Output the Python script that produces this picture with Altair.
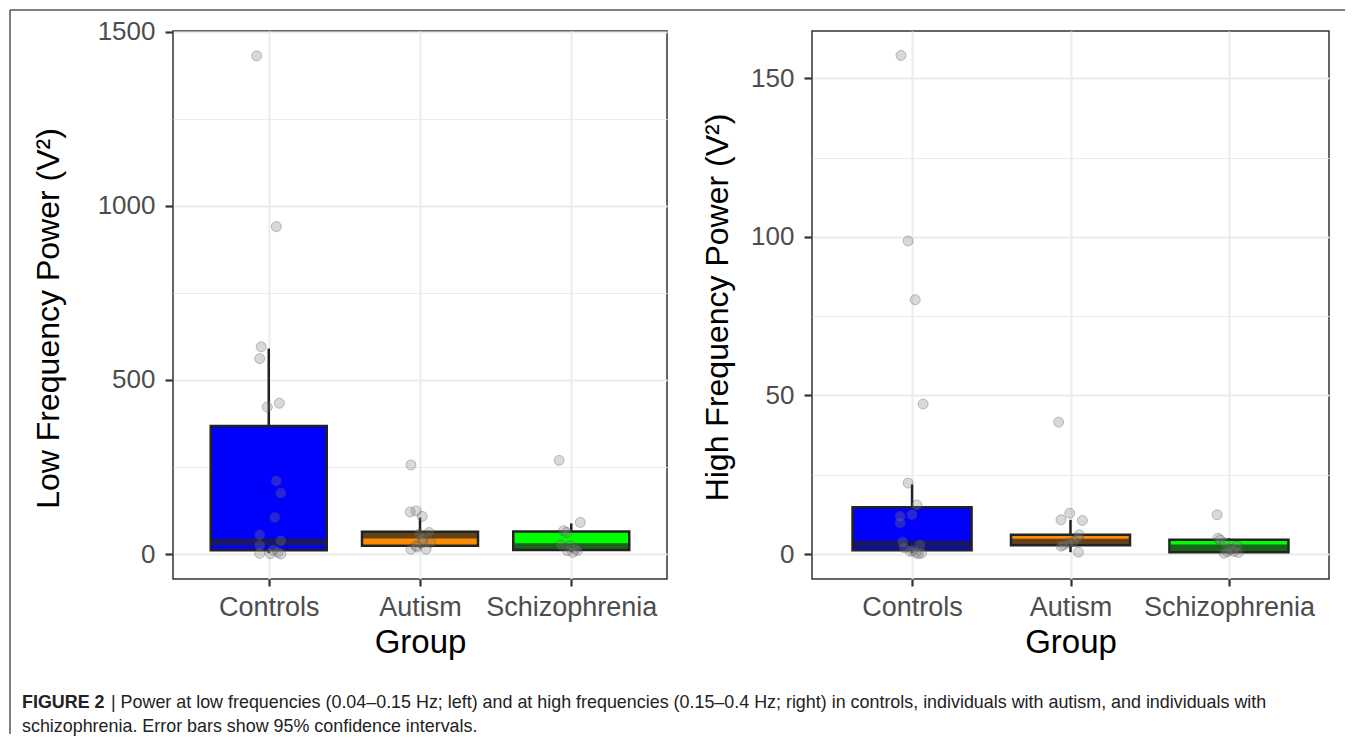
import altair as alt
import pandas as pd

groups = ["Controls", "Autism", "Schizophrenia"]
colors = ["#0000FF", "#FF8C00", "#00FF00"]

# ---------- Low frequency power (left) ----------
lf_ctrl = [1430, 940, 595, 561, 433, 422, 210, 175, 105, 55, 38, 25, 12, 5, 2, 0, 1]
lf_ctrl_jit = [-0.08, 0.05, -0.05, -0.06, 0.07, -0.01, 0.05, 0.08, 0.04, -0.06, 0.08, -0.06, 0.03, 0.06, -0.06, 0.08, 0.01]
lf_aut = [256, 121, 124, 108, 62, 57, 45, 33, 33, 24, 14, 14, 20]
lf_aut_jit = [-0.06, -0.065, -0.025, 0.015, 0.06, -0.005, 0.02, 0.02, 0.07, -0.025, -0.06, 0.04, -0.02]
lf_scz = [269, 91, 67, 62, 26, 24, 15, 10, 10, 5]
lf_scz_jit = [-0.08, 0.06, -0.05, -0.03, -0.07, -0.005, 0.03, -0.025, 0.04, 0.01]
lf_lower = [3, 17, 5]
lf_q1 = [11, 24, 12]
lf_median = [35, 55, 21]
lf_q3 = [368, 64, 65]
lf_upper = [590, 105, 88]

# ---------- High frequency power (right) ----------
hf_ctrl = [157.2, 98.7, 80.2, 47.3, 22.4, 15.5, 12.4, 11.9, 9.8, 3.8, 2.9, 0.85, 0.1, 0.3, 2.0, 1.2, 0.5]
hf_ctrl_jit = [-0.07, -0.025, 0.02, 0.07, -0.025, 0.03, 0.0, -0.075, -0.075, -0.06, 0.05, -0.01, 0.04, 0.06, -0.05, 0.005, 0.025]
hf_aut = [41.6, 12.9, 10.8, 10.6, 6.1, 5.0, 2.9, 2.5, 0.6, 4.0, 3.5]
hf_aut_jit = [-0.075, -0.005, -0.06, 0.075, 0.055, 0.045, -0.045, -0.06, 0.05, 0.02, -0.01]
hf_scz = [12.4, 5.0, 4.5, 3.5, 0.85, 0.85, 0.3, 1.5, 2.5, 0.5]
hf_scz_jit = [-0.075, -0.07, -0.055, -0.025, -0.01, 0.03, -0.03, 0.01, 0.05, 0.06]
hf_lower = [0.3, 0.6, 0.2]
hf_q1 = [1.2, 2.8, 0.6]
hf_median = [3.2, 3.7, 1.9]
hf_q3 = [14.8, 6.1, 4.5]
hf_upper = [22.0, 10.8, 5.0]

lf_title = "Low Frequency Power (V²)"
hf_title = "High Frequency Power (V²)"
x_title = "Group"
caption_bold = "FIGURE 2"
caption_1 = "| Power at low frequencies (0.04–0.15 Hz; left) and at high frequencies (0.15–0.4 Hz; right) in controls, individuals with autism, and individuals with"
caption_2 = "schizophrenia. Error bars show 95% confidence intervals."

FONT = "Liberation Sans"
CAP_FONT = "Liberation Sans"
DARK = "#222222"


def points_df(vals_list, jit_list):
    rows = []
    for i, (vals, jits) in enumerate(zip(vals_list, jit_list)):
        for v, j in zip(vals, jits):
            rows.append({"group": groups[i], "xv": i + 1 + j, "value": v})
    return pd.DataFrame(rows)


def box_df(lower, q1, med, q3, upper):
    return pd.DataFrame({
        "group": groups, "pos": [1, 2, 3],
        "lower": lower, "q1": q1, "median": med, "q3": q3, "upper": upper,
    })


def panel(pts, boxes, ydomain, ticks, major, ytitle, title_x, title_y, width, boxpx, extra=None):
    xs = alt.Scale(domain=[0.4, 3.6], nice=False, zero=False)
    ys = alt.Scale(domain=ydomain, nice=False, zero=False)
    label_arr = "[''," + ",".join("'%s'" % g for g in groups) + "]"
    x_axis = alt.Axis(
        values=[1, 2, 3], labelExpr=label_arr + "[datum.value]", title=x_title,
        grid=True, gridWidth=2, tickSize=7, labelPadding=29, labelBaseline="alphabetic",
        labelFontSize=27, titleFontSize=33, titleBaseline="alphabetic", titleY=73,
        labelFlush=False,
    )
    test = "datum.value %% %s === 0" % major
    y_axis = alt.Axis(
        values=ticks, title=ytitle, format="d",
        labelExpr="(" + test + ") ? datum.label : ''",
        gridWidth={"condition": {"test": test, "value": 2}, "value": 1},
        tickOpacity={"condition": {"test": test, "value": 1}, "value": 0},
        tickSize=8, labelPadding=10, labelFontSize=26, titleFontSize=32,
        titleBaseline="middle", titleX=title_x, titleY=title_y,
        labelFlush=False,
    )
    whisk = alt.Chart(boxes).mark_rule(color=DARK, strokeWidth=2.5).encode(
        x=alt.X("pos:Q", scale=xs, axis=x_axis),
        y=alt.Y("lower:Q", scale=ys, axis=y_axis),
        y2="upper:Q",
    )
    bx = alt.Chart(boxes).mark_bar(size=boxpx, stroke=DARK, strokeWidth=2.5).encode(
        x=alt.X("pos:Q", scale=xs),
        y=alt.Y("q1:Q", scale=ys),
        y2="q3:Q",
        color=alt.Color("group:N", scale=alt.Scale(domain=groups, range=colors), legend=None),
    )
    med = alt.Chart(boxes).mark_tick(orient="horizontal", size=boxpx - 2, thickness=7, color=DARK).encode(
        x=alt.X("pos:Q", scale=xs),
        y=alt.Y("median:Q", scale=ys),
    )
    pt = alt.Chart(pts).mark_circle(size=100, fill="#808080", fillOpacity=0.3,
                                    stroke="#404040", strokeOpacity=0.3, strokeWidth=1).encode(
        x=alt.X("xv:Q", scale=xs),
        y=alt.Y("value:Q", scale=ys),
    )
    layers = [whisk, bx, med, pt]
    if extra:
        layers += extra
    return alt.layer(*layers).properties(width=width, height=548)


one = pd.DataFrame({"k": [0]})
frame_top = alt.Chart(one).mark_rule(color="#555555", strokeWidth=1.5).encode(
    x=alt.value(-163), x2=alt.value(1172), y=alt.value(-21))
frame_left = alt.Chart(one).mark_rule(color="#555555", strokeWidth=1.5).encode(
    x=alt.value(-163), y=alt.value(-21), y2=alt.value(703))
cap_b = alt.Chart(one).mark_text(align="left", baseline="alphabetic", font=CAP_FONT,
                                 fontSize=17.9, fontWeight="bold", color="#222").encode(
    x=alt.value(-151), y=alt.value(677), text=alt.value(caption_bold))
cap_1 = alt.Chart(one).mark_text(align="left", baseline="alphabetic", font=CAP_FONT,
                                 fontSize=17.9, color="#222").encode(
    x=alt.value(-62), y=alt.value(677), text=alt.value(caption_1))
cap_2 = alt.Chart(one).mark_text(align="left", baseline="alphabetic", font=CAP_FONT,
                                 fontSize=17.9, color="#222").encode(
    x=alt.value(-151), y=alt.value(701), text=alt.value(caption_2))

left = panel(
    points_df([lf_ctrl, lf_aut, lf_scz], [lf_ctrl_jit, lf_aut_jit, lf_scz_jit]),
    box_df(lf_lower, lf_q1, lf_median, lf_q3, lf_upper),
    [-71.5, 1501.5], [0, 250, 500, 750, 1000, 1250, 1500], 500, lf_title, -125, 287, 494, 116,
    extra=[frame_top, frame_left, cap_b, cap_1, cap_2],
)
right = panel(
    points_df([hf_ctrl, hf_aut, hf_scz], [hf_ctrl_jit, hf_aut_jit, hf_scz_jit]),
    box_df(hf_lower, hf_q1, hf_median, hf_q3, hf_upper),
    [-7.85, 164.9], [0, 25, 50, 75, 100, 125, 150], 50, hf_title, -95, 276, 517, 119,
)

chart = alt.hconcat(left, right, spacing=145, bounds="flush").properties(padding=0).configure_view(
    stroke="#333333", strokeWidth=1.5
).configure_axis(
    domain=False, labelFont=FONT, titleFont=FONT, labelColor="#4D4D4D", titleColor="#000000",
    titleFontWeight="normal", gridColor="#EBEBEB", tickColor="#333333", tickWidth=2.2,
)

chart.save("out.html", embed_options={"renderer": "svg", "actions": False})
